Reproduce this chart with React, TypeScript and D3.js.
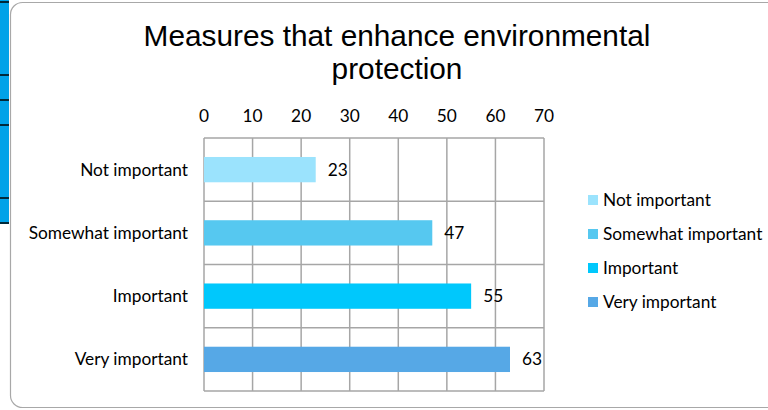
import React from "react";
import * as d3 from "d3";

const categories = ["Not important", "Somewhat important", "Important", "Very important"];
const values = [23, 47, 55, 63];
const colors = ["#9BE3FD", "#56C8F0", "#00C8FC", "#56A8E6"];
const ticks = [0, 10, 20, 30, 40, 50, 60, 70];
const titleLines = ["Measures that enhance environmental", "protection"];

const W = 768;
const H = 410;
const FONT = "Lato, 'Open Sans', sans-serif";
const FS = 17.3;

export default function App() {
  const x = d3.scaleLinear().domain([0, 70]).range([204, 544]);
  const y = d3.scaleBand<string>().domain(categories).range([138, 391]).padding(0);
  const bh = y.bandwidth() * 0.4;
  const stripLines = [2, 75, 100, 125, 198, 223];
  return (
    <div style={{ position: "fixed", left: 0, top: 0, width: W, height: H, background: "#fff" }}>
      <svg width={W} height={H} style={{ display: "block" }}>
        <rect x={0} y={0} width={9} height={224} fill="#00A2E8" />
        {stripLines.map((l, i) => (
          <line key={i} x1={0} x2={9} y1={l} y2={l} stroke="#000" strokeWidth={1.5} />
        ))}
        <rect x={10.5} y={2.5} width={780} height={405} rx={12} ry={12} fill="#fff" stroke="#a8a8a8" strokeWidth={1.2} />
        {titleLines.map((t, i) => (
          <text key={i} x={397} y={46 + i * 33} textAnchor="middle" fontFamily="'Liberation Sans', Arial, sans-serif" fontSize={29.8} fill="#000">
            {t}
          </text>
        ))}
        {ticks.map((t) => (
          <g key={t}>
            <line x1={x(t)} x2={x(t)} y1={138} y2={391} stroke="#a6a6a6" strokeWidth={1.5} />
            <text x={x(t)} y={122} textAnchor="middle" fontFamily={FONT} fontSize={FS} fill="#000">
              {t}
            </text>
          </g>
        ))}
        {categories.map((c) => (
          <line key={c} x1={204} x2={544} y1={y(c) as number} y2={y(c) as number} stroke="#a6a6a6" strokeWidth={1.5} />
        ))}
        <line x1={204} x2={544} y1={391} y2={391} stroke="#a6a6a6" strokeWidth={1.5} />
        {categories.map((c, i) => {
          const cy = (y(c) as number) + y.bandwidth() / 2;
          return (
            <g key={c}>
              <rect x={x(0)} y={cy - bh / 2} width={x(values[i]) - x(0)} height={bh} fill={colors[i]} />
              <text x={x(values[i]) + 12} y={cy + 6} fontFamily={FONT} fontSize={FS} fill="#000">
                {values[i]}
              </text>
              <text x={188} y={cy + 6} textAnchor="end" fontFamily={FONT} fontSize={FS} fill="#000">
                {c}
              </text>
            </g>
          );
        })}
        {categories.map((c, i) => (
          <g key={c}>
            <rect x={588} y={195 + i * 34} width={10} height={10} fill={colors[i]} />
            <text x={603} y={206 + i * 34} fontFamily={FONT} fontSize={FS} fill="#000">
              {c}
            </text>
          </g>
        ))}
      </svg>
    </div>
  );
}
